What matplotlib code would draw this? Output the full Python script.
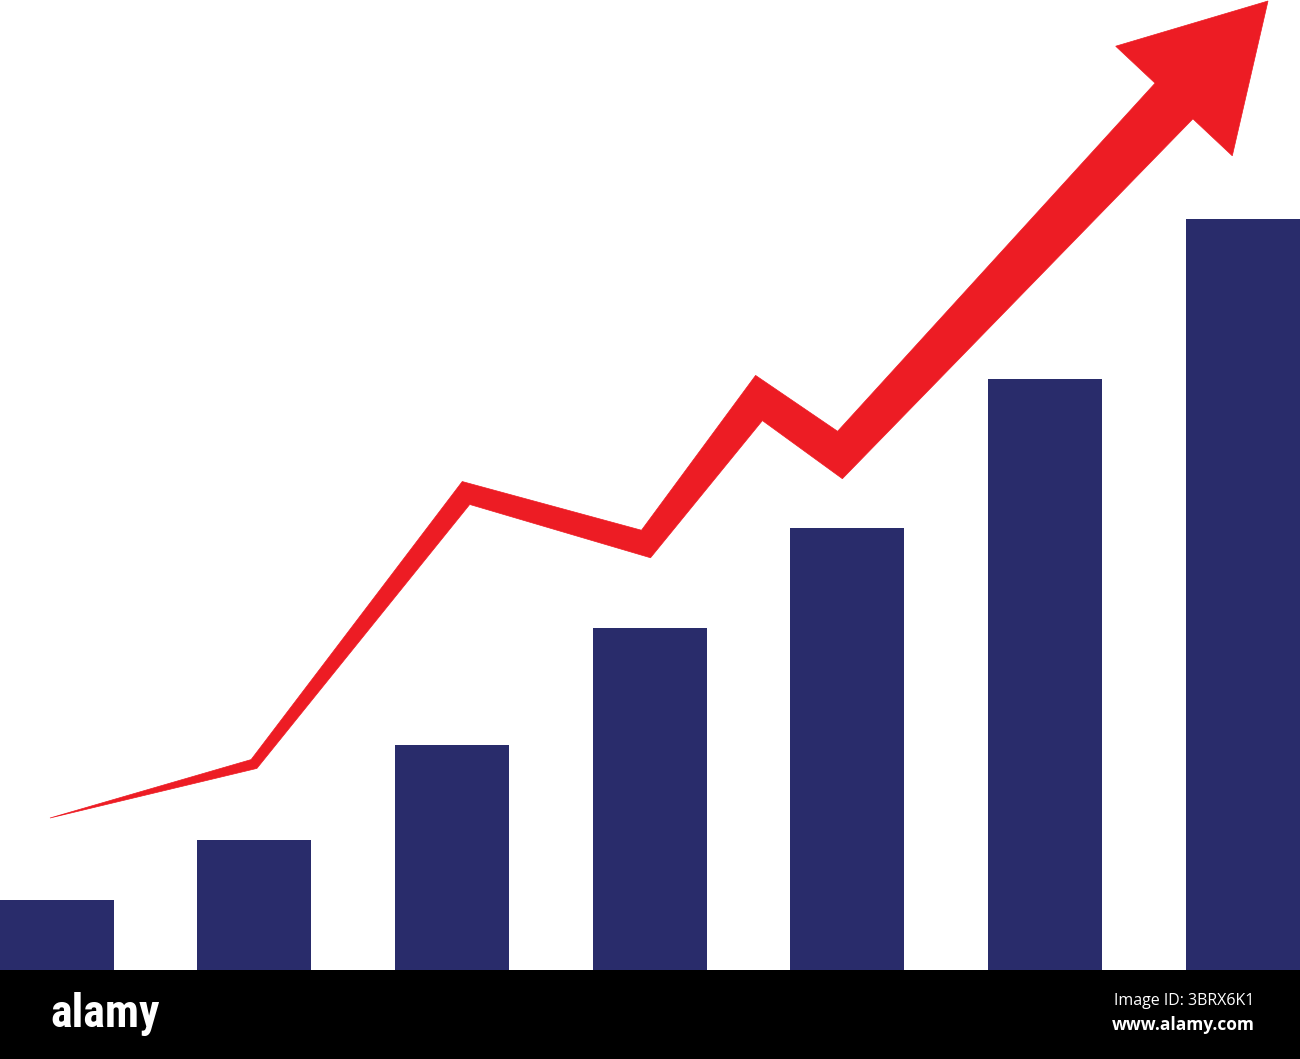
import numpy as np
import matplotlib
matplotlib.use("Agg")
import matplotlib.pyplot as plt
from matplotlib.patches import Polygon
from matplotlib import font_manager

# ---- data ----
bar_positions = [57, 254, 452, 650, 847, 1045, 1243]
bar_values = [70, 130, 225, 342, 442, 591, 751]

trend_x = [50, 254, 466, 646, 759, 840, 1174]
trend_y = [152, 206, 477, 426, 572, 515, 869]
arrow_tip = (1268, 969)

watermark_logo = "alamy"
watermark_id = "Image ID: 3BRX6K1"
watermark_url = "www.alamy.com"

# ---- style ----
NAVY = "#292C6B"
RED = "#ED1C24"
bar_width = 114
trend_widths = [0, 10, 20, 24, 33, 36, 52]
head_half_width = 80

installed = {f.name for f in font_manager.fontManager.ttflist}
logo_font, logo_size = "DejaVu Sans", 22
for name, size in [("Roboto Condensed", 33), ("Liberation Sans Narrow", 33),
                   ("Open Sans Condensed", 33), ("Roboto", 26)]:
    if name in installed:
        logo_font, logo_size = name, size
        break

W, H = 1300, 1059
band_h = 89
fig = plt.figure(figsize=(W / 100, H / 100), dpi=100)
fig.patch.set_facecolor("white")

ax = fig.add_axes([0, band_h / H, 1, (H - band_h) / H])
ax.set_xlim(0, 1300)
ax.set_ylim(0, H - band_h)
ax.axis("off")

ax.bar(bar_positions, bar_values, width=bar_width, color=NAVY, zorder=1)

# tapered trend line polygon with miter joins
P = np.column_stack([trend_x, trend_y]).astype(float)
w = np.array(trend_widths, float)
n = len(P)
segs = P[1:] - P[:-1]
dirs = segs / np.linalg.norm(segs, axis=1)[:, None]
norms = np.column_stack([-dirs[:, 1], dirs[:, 0]])
left, right = [], []
for i in range(n):
    if i == 0:
        m = norms[0]; L = w[i] / 2
    elif i == n - 1:
        m = norms[-1]; L = w[i] / 2
    else:
        m = norms[i - 1] + norms[i]
        m = m / np.linalg.norm(m)
        L = (w[i] / 2) / np.dot(m, norms[i])
    left.append(P[i] + m * L)
    right.append(P[i] - m * L)

# arrow head
end = P[-1]
tip = np.array(arrow_tip, float)
hd = (tip - end) / np.linalg.norm(tip - end)
hn = np.array([-hd[1], hd[0]])
head = [end + hn * head_half_width, tip, end - hn * head_half_width]

poly = left + head + right[::-1]
ax.add_patch(Polygon(poly, closed=True, facecolor=RED, edgecolor=RED, lw=0.5, zorder=3))

# watermark band
bax = fig.add_axes([0, 0, 1, band_h / H])
bax.set_facecolor("black")
bax.set_xlim(0, W)
bax.set_ylim(band_h, 0)
bax.set_xticks([]); bax.set_yticks([])
for s in bax.spines.values():
    s.set_visible(False)
bax.text(50, 57, watermark_logo, color="white", fontsize=logo_size, fontweight="bold",
         family=[logo_font, "DejaVu Sans"], va="baseline", ha="left")
bax.text(1184, 31, watermark_id, color="white", fontsize=11.5,
         family=["Open Sans", "DejaVu Sans"], ha="center", va="center")
bax.text(1183, 55, watermark_url, color="white", fontsize=12.5, fontweight="bold",
         family=["Open Sans", "DejaVu Sans"], ha="center", va="center")

fig.savefig("out.png", dpi=100, facecolor="white")
